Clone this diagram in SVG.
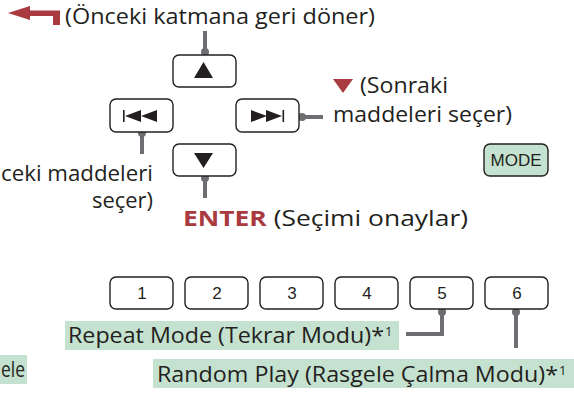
<svg xmlns="http://www.w3.org/2000/svg" width="574" height="394" viewBox="0 0 574 394">
<style>
.t{font-family:"Open Sans","Noto Sans",sans-serif;font-size:22px;fill:#231f20}
.s{font-family:"Open Sans","Noto Sans",sans-serif;font-size:13px;fill:#231f20}
.n{font-family:"Liberation Sans",Arial,sans-serif;font-size:17px;fill:#231f20;text-anchor:middle}
.btn{fill:#fff;stroke:#231f20;stroke-width:1.4}
.g{fill:#c5e2d0}
.ld{stroke:#6d6e71;stroke-width:4;fill:none}
.dot{fill:#6d6e71}
.ic{fill:#231f20}
.red{fill:#a83a40}
</style>
<g id="back">
<path class="red" d="M8,13 L30,6 L30,10.5 L60,10.5 L60,25 L53,25 L53,16 L30,16 L30,20 Z"/>
<text class="t" x="65" y="24" textLength="310" lengthAdjust="spacingAndGlyphs">(Önceki katmana geri döner)</text>
</g>
<g id="connectors">
<line class="ld" x1="205" y1="31" x2="205" y2="52"/><circle class="dot" cx="205" cy="52" r="4"/>
<line class="ld" x1="142" y1="133" x2="142" y2="154"/><circle class="dot" cx="142" cy="133" r="4"/>
<line class="ld" x1="302" y1="117" x2="323" y2="117"/><circle class="dot" cx="302" cy="117" r="4"/>
<line class="ld" x1="205" y1="178" x2="205" y2="198"/><circle class="dot" cx="205" cy="178" r="4"/>
<polyline class="ld" points="442,313 442,334 406,334"/><circle class="dot" cx="442" cy="312" r="4"/>
<line class="ld" x1="516" y1="312" x2="516" y2="348"/><circle class="dot" cx="516" cy="312" r="4"/>
</g>
<g id="up">
<rect class="btn" x="173" y="55" width="63" height="32" rx="6"/>
<path class="ic" d="M203.5,62 L213,78 L194,78 Z"/>
</g>
<g id="prev">
<rect class="btn" x="110" y="99" width="63" height="33" rx="6"/>
<rect class="ic" x="123" y="110" width="1.6" height="12"/>
<path class="ic" d="M125,116 L141,110 L141,122 Z M141,116 L157,110 L157,122 Z"/>
</g>
<g id="next">
<rect class="btn" x="236" y="99" width="63" height="33" rx="6"/>
<path class="ic" d="M251,110 L267,116 L251,122 Z M266,110 L282,116 L266,122 Z"/>
<rect class="ic" x="282.5" y="110" width="1.6" height="12"/>
</g>
<g id="down">
<rect class="btn" x="173" y="144" width="63" height="32" rx="6"/>
<path class="ic" d="M194,153 L213,153 L203.5,168 Z"/>
</g>
<g id="next-label">
<path class="red" d="M333,79 L353,79 L343,93 Z"/>
<text class="t" x="360" y="93" textLength="88" lengthAdjust="spacingAndGlyphs">(Sonraki</text>
<text class="t" x="333" y="122" textLength="179" lengthAdjust="spacingAndGlyphs">maddeleri seçer)</text>
</g>
<g id="prev-label">
<text class="t" x="1" y="181" textLength="152" lengthAdjust="spacingAndGlyphs">ceki maddeleri</text>
<text class="t" x="92" y="208" textLength="61" lengthAdjust="spacingAndGlyphs">seçer)</text>
</g>
<g id="enter">
<text class="t" x="183" y="226" textLength="285" lengthAdjust="spacingAndGlyphs"><tspan style="font-weight:bold;fill:#a83a40">ENTER</tspan> (Seçimi onaylar)</text>
</g>
<g id="mode">
<rect class="btn" style="fill:#c5e2d0" x="484" y="144" width="64" height="32" rx="6"/>
<text class="n" x="516" y="166">MODE</text>
</g>
<g id="b1"><rect class="btn" x="110" y="277" width="63" height="32" rx="6"/><text class="n" x="142" y="299">1</text></g>
<g id="b2"><rect class="btn" x="185" y="277" width="63" height="32" rx="6"/><text class="n" x="217" y="299">2</text></g>
<g id="b3"><rect class="btn" x="260" y="277" width="63" height="32" rx="6"/><text class="n" x="292" y="299">3</text></g>
<g id="b4"><rect class="btn" x="335" y="277" width="63" height="32" rx="6"/><text class="n" x="367" y="299">4</text></g>
<g id="b5"><rect class="btn" x="410" y="277" width="63" height="32" rx="6"/><text class="n" x="442" y="299">5</text></g>
<g id="b6"><rect class="btn" x="485" y="277" width="63" height="32" rx="6"/><text class="n" x="517" y="299">6</text></g>
<g id="repeat">
<rect class="g" x="65" y="321" width="334" height="29"/>
<text class="t" x="68" y="343" textLength="316" lengthAdjust="spacingAndGlyphs">Repeat Mode (Tekrar Modu)*</text>
<text class="s" x="385" y="336">1</text>
</g>
<g id="random">
<rect class="g" x="153" y="359" width="421" height="29"/>
<text class="t" x="157" y="382" textLength="401" lengthAdjust="spacingAndGlyphs">Random Play (Rasgele Çalma Modu)*</text>
<text class="s" x="559" y="375">1</text>
</g>
<g id="cut">
<rect class="g" x="0" y="355" width="27" height="29"/>
<text class="t" x="1" y="377" textLength="24" lengthAdjust="spacingAndGlyphs">ele</text>
</g>
</svg>
